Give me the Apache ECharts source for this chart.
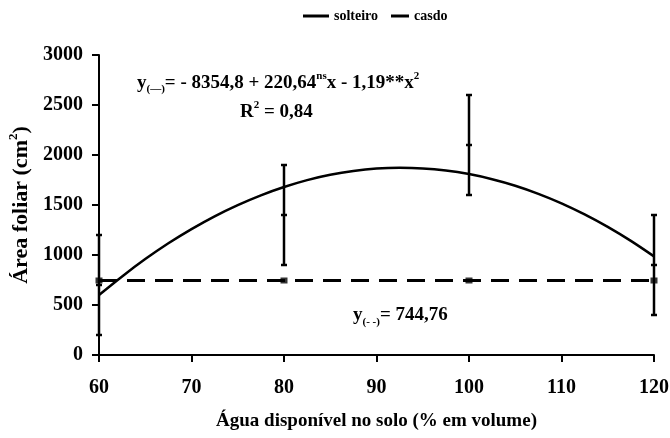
<!DOCTYPE html>
<html><head><meta charset="utf-8">
<script src="https://cdn.jsdelivr.net/npm/echarts@6/dist/echarts.min.js"></script>
<style>html,body{margin:0;padding:0;background:#fff}#c{width:670px;height:438px}</style>
</head><body><div id="c"></div>
<script>
// Data
const obsX = [60, 80, 100, 120];
const solteiroMean = [700, 1400, 2100, 900];
const solteiroLow = [200, 900, 1600, 400];
const solteiroHigh = [1200, 1900, 2600, 1400];
const casadoMean = [745, 745, 745, 745];
const fitX = [60, 62.5, 65, 67.5, 70, 72.5, 75, 77.5, 80, 82.5, 85, 87.5, 90, 92.5, 95, 97.5, 100, 102.5, 105, 107.5, 110, 112.5, 115, 117.5, 120];
const fitSolteiro = [600, 786, 959, 1117, 1259, 1387, 1499, 1597, 1680, 1749, 1802, 1840, 1864, 1872, 1866, 1845, 1809, 1758, 1693, 1612, 1517, 1406, 1281, 1141, 986];
const casadoFitX = [60, 120];
const casadoFit = [744.76, 744.76];

const FF = '"Liberation Serif", "Times New Roman", serif';
const chart = echarts.init(document.getElementById('c'));

const errData = obsX.map((x, i) => [x, solteiroLow[i], solteiroHigh[i], solteiroMean[i]]);
const legendText = { fontFamily: FF, fontWeight: 'bold', fontSize: 14, color: '#000' };

chart.setOption({
  animation: false,
  grid: { left: 99, right: 16, top: 55, bottom: 83, containLabel: false, outerBoundsMode: 'none' },
  legend: [
    {
      top: 4, left: 298, itemWidth: 26, itemHeight: 3,
      textStyle: legendText,
      data: [{ name: 'solteiro', icon: 'rect' }]
    },
    {
      top: 4, left: 386, itemWidth: 18, itemHeight: 3,
      textStyle: legendText,
      data: [{ name: 'casdo', icon: 'rect' }]
    }
  ],
  xAxis: {
    type: 'value', min: 60, max: 120, interval: 10,
    name: 'Água disponível no solo (% em volume)',
    nameLocation: 'middle', nameGap: 57,
    nameTextStyle: { fontFamily: FF, fontWeight: 'bold', fontSize: 19, color: '#000' },
    axisLine: { lineStyle: { color: '#000', width: 2 } },
    axisTick: { show: true, length: 7, lineStyle: { color: '#000', width: 2 } },
    axisLabel: { margin: 23, fontFamily: FF, fontWeight: 'bold', fontSize: 20, color: '#000' },
    splitLine: { show: false }
  },
  yAxis: {
    type: 'value', min: 0, max: 3000, interval: 500,
    name: '{t|Área foliar (cm}{s|2}{t|)}',
    nameLocation: 'middle', nameGap: 67,
    nameTextStyle: {
      rich: {
        t: { fontFamily: FF, fontWeight: 'bold', fontSize: 22, color: '#000', lineHeight: 25, verticalAlign: 'bottom' },
        s: { fontFamily: FF, fontWeight: 'bold', fontSize: 13, color: '#000', lineHeight: 25, verticalAlign: 'top' }
      }
    },
    axisLine: { show: true, lineStyle: { color: '#000', width: 2 } },
    axisTick: { show: true, length: 7, lineStyle: { color: '#000', width: 2 } },
    axisLabel: { margin: 16, fontFamily: FF, fontWeight: 'bold', fontSize: 20, color: '#000', formatter: v => String(v) },
    splitLine: { show: false }
  },
  series: [
    {
      name: 'solteiro', type: 'line', smooth: 0.3, showSymbol: false, symbol: 'none',
      data: fitX.map((x, i) => [x, fitSolteiro[i]]),
      lineStyle: { color: '#000', width: 2.5 }, itemStyle: { color: '#000' }, z: 3
    },
    {
      name: 'casdo', type: 'line', showSymbol: false, symbol: 'none',
      data: casadoFitX.map((x, i) => [x, casadoFit[i]]),
      lineStyle: { color: '#000', width: 3, type: [18, 10] }, itemStyle: { color: '#000' }, z: 3
    },
    {
      name: 'casdoObs', type: 'scatter', symbol: 'rect', symbolSize: [7, 6],
      data: obsX.map((x, i) => [x, casadoMean[i]]),
      itemStyle: { color: '#000' }, z: 4
    },
    {
      name: 'solteiroErr', type: 'custom',
      data: errData,
      encode: { x: 0, y: [1, 2, 3] },
      renderItem: function (params, api) {
        const x = api.value(0);
        const lo = api.coord([x, api.value(1)]);
        const hi = api.coord([x, api.value(2)]);
        const md = api.coord([x, api.value(3)]);
        const cw = 3;
        const st = { stroke: '#000', lineWidth: 2.5 };
        return {
          type: 'group',
          children: [
            { type: 'line', shape: { x1: lo[0], y1: lo[1], x2: hi[0], y2: hi[1] }, style: st },
            { type: 'line', shape: { x1: lo[0] - cw, y1: lo[1], x2: lo[0] + cw, y2: lo[1] }, style: st },
            { type: 'line', shape: { x1: hi[0] - cw, y1: hi[1], x2: hi[0] + cw, y2: hi[1] }, style: st },
            { type: 'line', shape: { x1: md[0] - cw, y1: md[1], x2: md[0] + cw, y2: md[1] }, style: st }
          ]
        };
      },
      z: 5
    }
  ],
  graphic: [
    {
      type: 'text', left: 137, top: 71,
      style: {
        text: '{n|y}{b|(—)}{n|= - 8354,8 + 220,64}{p|ns}{n|x - 1,19**x}{p|2}',
        rich: {
          n: { fontFamily: FF, fontWeight: 'bold', fontSize: 19, fill: '#000', lineHeight: 24, verticalAlign: 'middle' },
          b: { fontFamily: FF, fontWeight: 'bold', fontSize: 11, fill: '#000', lineHeight: 24, verticalAlign: 'bottom' },
          p: { fontFamily: FF, fontWeight: 'bold', fontSize: 11, fill: '#000', lineHeight: 24, verticalAlign: 'top' }
        }
      }
    },
    {
      type: 'text', left: 240, top: 100,
      style: {
        text: '{n|R}{p|2}{n| = 0,84}',
        rich: {
          n: { fontFamily: FF, fontWeight: 'bold', fontSize: 19, fill: '#000', lineHeight: 24, verticalAlign: 'middle' },
          p: { fontFamily: FF, fontWeight: 'bold', fontSize: 11, fill: '#000', lineHeight: 24, verticalAlign: 'top' }
        }
      }
    },
    {
      type: 'text', left: 353, top: 306,
      style: {
        text: '{n|y}{b|(- -)}{n|= 744,76}',
        rich: {
          n: { fontFamily: FF, fontWeight: 'bold', fontSize: 19, fill: '#000', lineHeight: 24, verticalAlign: 'middle' },
          b: { fontFamily: FF, fontWeight: 'bold', fontSize: 11, fill: '#000', lineHeight: 24, verticalAlign: 'bottom' }
        }
      }
    }
  ]
});
</script></body></html>
